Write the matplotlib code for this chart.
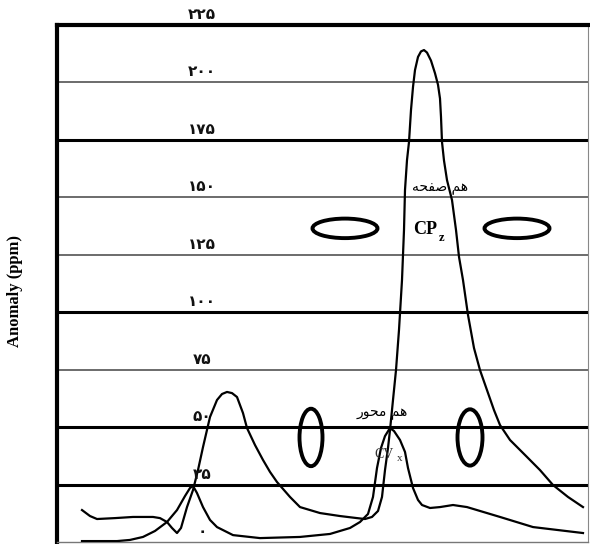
import matplotlib
matplotlib.use("Agg")
import matplotlib.pyplot as plt
from matplotlib.patches import Ellipse

# ---------------- data ----------------
# y-axis ticks (ppm) and their Persian labels
tick_values = [0, 25, 50, 75, 100, 125, 150, 175, 200, 225]
tick_labels = ["۰", "۲۵", "۵۰", "۷۵", "۱۰۰", "۱۲۵", "۱۵۰", "۱۷۵", "۲۰۰", "۲۲۵"]
grid_heavy = [False, True, True, False, True, False, False, True, False, True]

# curve "Pz" (coplanar anomaly): distance, anomaly ppm
pz_x = [25, 33, 40, 58, 76, 96, 103, 110, 115, 120, 124, 130, 136, 141, 146, 153,
        160, 165, 170, 175, 180, 186, 190, 198, 206, 213, 220, 233, 243, 263, 283,
        300, 308, 315, 321, 325, 328, 331, 333, 336, 339, 342, 345, 347, 348, 350,
        352, 354, 356, 358, 361, 364, 367, 370, 374, 378, 381, 383, 384, 385, 387,
        390, 395, 399, 402, 406, 411, 417, 423, 430, 437, 443, 453, 470, 483, 496,
        511, 526]
pz_y = [13.9, 11.3, 10.0, 10.4, 10.9, 10.9, 10.4, 8.7, 6.1, 3.9, 6.1, 15.2, 22.6,
        31.3, 41.3, 54.4, 61.8, 64.4, 65.3, 64.8, 63.1, 56.1, 49.6, 42.2, 35.7,
        30.5, 26.1, 19.6, 15.2, 12.6, 11.3, 10.4, 10.0, 10.9, 13.5, 19.6, 31.3,
        40.9, 48.7, 61.8, 74.8, 92.3, 114.0, 135.8, 153.2, 166.2, 174.1, 188.0,
        198.0, 205.4, 211.1, 213.5, 214.1, 213.0, 209.5, 204.0, 199.0, 193.0,
        185.0, 174.1, 166.0, 157.5, 148.8, 135.8, 124.1, 114.0, 98.8, 84.4, 74.8,
        66.1, 57.4, 50.9, 44.4, 37.0, 31.3, 24.8, 19.6, 15.2]

# curve "Vx" (coaxial anomaly)
vx_x = [25, 60, 73, 86, 98, 110, 120, 128, 133, 136, 140, 146, 153, 160, 176, 203,
        243, 273, 293, 303, 311, 316, 320, 324, 328, 333, 337, 343, 348, 351, 356,
        361, 365, 373, 383, 396, 410, 443, 476, 526]
vx_y = [0.4, 0.4, 0.9, 2.2, 4.8, 8.7, 13.9, 20.0, 23.5, 24.4, 21.3, 15.2, 9.6, 6.5,
        3.0, 1.7, 2.2, 3.5, 6.1, 8.7, 12.2, 19.6, 32.2, 40.9, 46.1, 49.6, 48.3,
        44.4, 39.2, 32.2, 23.5, 18.3, 16.1, 14.8, 15.2, 16.1, 15.2, 10.9, 6.5, 3.9]

# coil-orientation symbols (ellipses): centre x, centre y, width, height
ell_x = [288, 460, 254, 413]
ell_y = [136.5, 136.5, 45.5, 45.5]
ell_w = [65, 65, 23, 25]
ell_h = [8.5, 8.5, 25.0, 24.5]

# ---------------- figure ----------------
fig = plt.figure(figsize=(5.90, 5.44), dpi=100)
ax = fig.add_axes([57 / 590, 2 / 544, (588 - 57) / 590, (542 - 25) / 544])
ax.set_xlim(0, 531)
ax.set_ylim(0, 225)
ax.set_xticks([])
ax.set_yticks([])

for side in ["left", "top"]:
    ax.spines[side].set_linewidth(3.0)
    ax.spines[side].set_color("black")
ax.spines["right"].set_linewidth(0.8)
ax.spines["right"].set_color("#888888")
ax.spines["bottom"].set_linewidth(1.0)
ax.spines["bottom"].set_color("#777777")

for v, heavy in zip(tick_values, grid_heavy):
    if v in (0, 225):
        continue
    if heavy:
        ax.axhline(v, color="black", lw=2.2, zorder=1)
    else:
        ax.axhline(v, color="#444444", lw=1.1, zorder=1)

# tick labels drawn inside the plot above each gridline
for v, lab in zip(tick_values, tick_labels):
    ax.text(145, v + 1.3, lab, ha="center", va="bottom", fontsize=11,
            fontweight="bold", family=["DejaVu Sans"], color="#111111",
            clip_on=False, zorder=4)

ax.plot(pz_x, pz_y, color="black", lw=1.6, solid_joinstyle="round", zorder=3)
ax.plot(vx_x, vx_y, color="black", lw=1.6, solid_joinstyle="round", zorder=3)

for cx, cy, w, h in zip(ell_x, ell_y, ell_w, ell_h):
    ax.add_patch(Ellipse((cx, cy), w, h, fill=False, edgecolor="black",
                         lw=2.8, zorder=3))

# Persian annotations (presentation forms in visual order)
hamsafhe = "\uFEEA\uFEA4\uFED4\uFEBB \uFEE2\uFEEB"   # هم صفحه
hammehvar = "\uFEAD\uFEEE\uFEA4\uFEE3 \uFEE2\uFEEB"  # هم محور
ax.text(383, 154.5, hamsafhe, ha="center", va="center", fontsize=10,
        family=["DejaVu Sans"], zorder=4)
ax.text(325, 56.3, hammehvar, ha="center", va="center", fontsize=10,
        family=["DejaVu Sans"], zorder=4)

ax.text(368, 135.8, "CP", ha="center", va="center", fontsize=13,
        fontweight="bold", family=["Liberation Serif"], zorder=4)
ax.text(385, 132.2, "z", ha="center", va="center", fontsize=9,
        fontweight="bold", family=["Liberation Serif"], zorder=4)
ax.text(327, 37.9, "CV", ha="center", va="center", fontsize=10,
        family=["Liberation Serif"], color="#333333", zorder=4)
ax.text(343, 36.3, "x", ha="center", va="center", fontsize=8,
        family=["Liberation Serif"], color="#333333", zorder=4)

fig.text(15 / 590, 1 - 291 / 544, "Anomaly (ppm)", rotation=90, ha="center",
         va="center", fontsize=12, fontweight="bold", family=["Liberation Serif"])

fig.savefig("out.png", dpi=100)
